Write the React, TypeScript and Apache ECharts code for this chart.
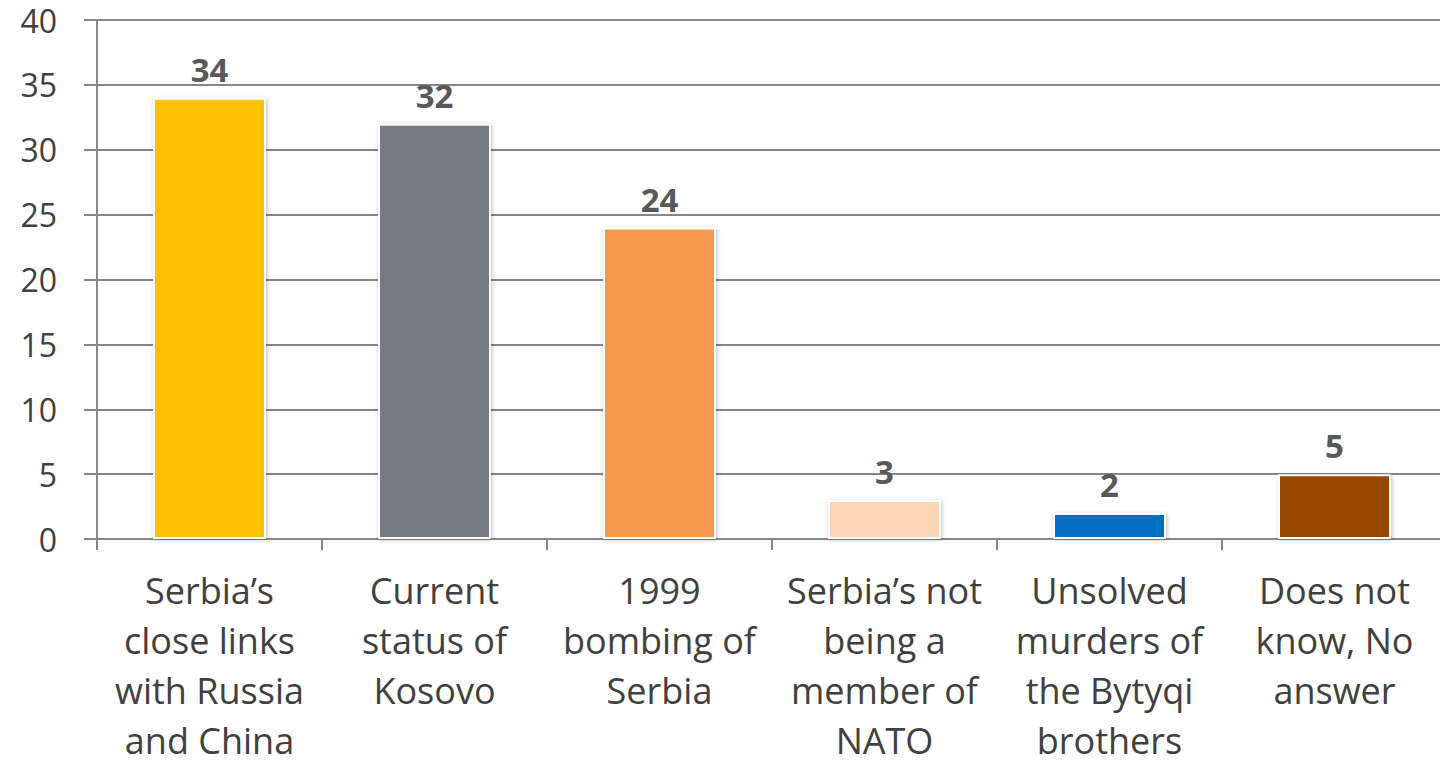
import React, { useEffect, useRef } from "react";
import * as echarts from "echarts";

const categories = [
  "Serbia’s\nclose links\nwith Russia\nand China",
  "Current\nstatus of\nKosovo",
  "1999\nbombing of\nSerbia",
  "Serbia’s not\nbeing a\nmember of\nNATO",
  "Unsolved\nmurders of\nthe Bytyqi\nbrothers",
  "Does not\nknow, No\nanswer",
];
const values = [34, 32, 24, 3, 2, 5];
const colors = ["#FFC000", "#777B84", "#F59A4D", "#FCD5B5", "#0070C0", "#974706"];

export default function App() {
  const ref = useRef<HTMLDivElement>(null);
  useEffect(() => {
    const chart = echarts.init(ref.current!, undefined, { renderer: "svg" });
    chart.setOption({
      animation: false,
      grid: { left: 97, top: 20, width: 1350, height: 519, containLabel: false, outerBoundsMode: "none" },
      xAxis: {
        type: "category",
        data: categories,
        axisLine: { lineStyle: { color: "#868686", width: 2 } },
        axisTick: { show: true, length: 11, lineStyle: { color: "#868686", width: 2 } },
        axisLabel: {
          interval: 0,
          color: "#404040",
          fontSize: 36,
          fontFamily: "Open Sans",
          lineHeight: 50,
          margin: 26,
        },
      },
      yAxis: {
        type: "value",
        min: 0,
        max: 40,
        interval: 5,
        axisLine: { show: true, lineStyle: { color: "#868686", width: 2 } },
        axisTick: { show: true, length: 13, lineStyle: { color: "#868686", width: 2 } },
        splitLine: { lineStyle: { color: "#868686", width: 2 } },
        axisLabel: { color: "#404040", fontSize: 32, fontFamily: "Open Sans", margin: 40 },
      },
      series: [
        {
          type: "bar",
          barWidth: 113,
          data: values.map((v, i) => ({
            value: v,
            itemStyle: {
              color: colors[i],
              borderColor: "#ffffff",
              borderWidth: 2,
              shadowColor: "rgba(0,0,0,0.25)",
              shadowBlur: 4,
              shadowOffsetX: 1,
              shadowOffsetY: 1,
            },
          })),
          label: {
            show: true,
            position: "top",
            distance: 12,
            color: "#595959",
            fontSize: 33,
            fontWeight: "bold",
            fontFamily: "Open Sans",
          },
        },
      ],
    });
    return () => chart.dispose();
  }, []);
  return (
    <div
      ref={ref}
      style={{ position: "fixed", left: 0, top: 0, width: 1440, height: 767, background: "#fff" }}
    />
  );
}
